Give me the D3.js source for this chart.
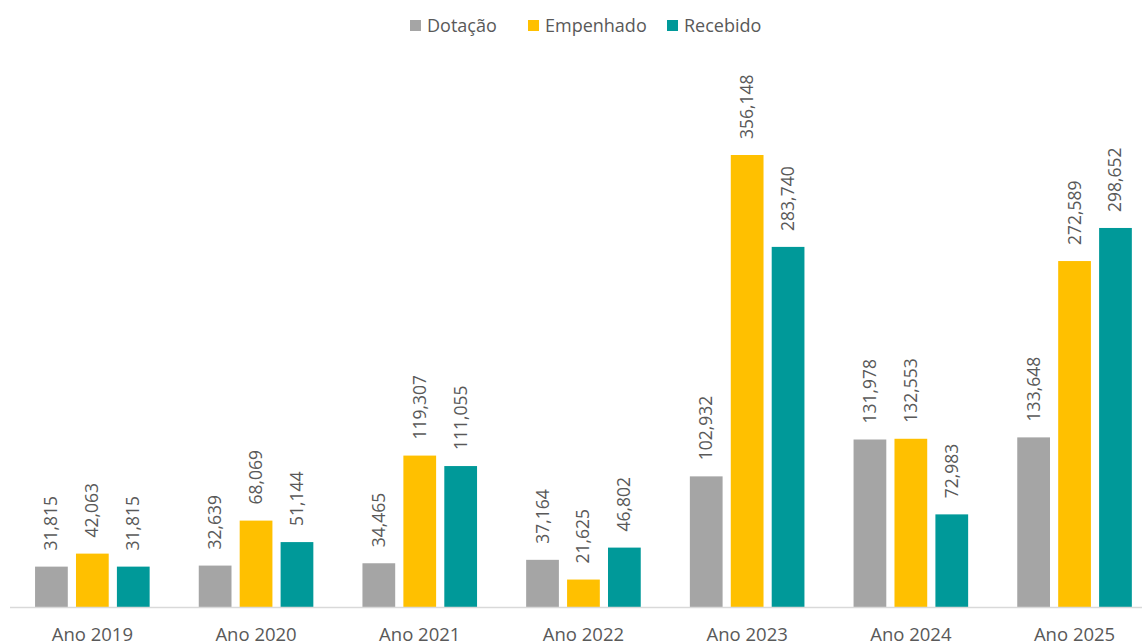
<!DOCTYPE html>
<html>
<head>
<meta charset="utf-8">
<script src="https://cdn.jsdelivr.net/npm/d3@7"></script>
<style>
	body { margin: 0; background: #fff; }
	text { font-family: "Open Sans", sans-serif; fill: #595959; }
</style>
</head>
<body>
<div id="chart"></div>
<script>
	var years = ["Ano 2019", "Ano 2020", "Ano 2021", "Ano 2022", "Ano 2023", "Ano 2024", "Ano 2025"];
	var seriesNames = ["Dotação", "Empenhado", "Recebido"];
	var colors = ["#A5A5A5", "#FFC000", "#009999"];
	var dotacao   = [31815, 32639, 34465, 37164, 102932, 131978, 133648];
	var empenhado = [42063, 68069, 119307, 21625, 356148, 132553, 272589];
	var recebido  = [31815, 51144, 111055, 46802, 283740, 72983, 298652];
	var seriesValues = [dotacao, empenhado, recebido];

	var width = 1142, height = 642;
	var baseY = 607;
	var step = 163.7;

	var svg = d3.select("#chart").append("svg")
		.attr("width", width)
		.attr("height", height);

	// groups: the plot runs a bit past the right edge, as in the original
	var x0 = d3.scaleBand().domain(years).range([10.5, 10.5 + 7 * step]).paddingInner(0.3).paddingOuter(0.15);
	var x1 = d3.scaleBand().domain(seriesNames).range([0, x0.bandwidth()]).paddingInner(0.2);
	var y = d3.scaleLinear().domain([0, 356148]).range([baseY, 155]);

	var groups = svg.selectAll("g.group")
		.data(years)
		.enter().append("g")
		.attr("class", "group")
		.attr("transform", function(d) { return "translate(" + x0(d) + ",0)"; });

	groups.each(function(year, i) {
		var g = d3.select(this);
		seriesNames.forEach(function(s, j) {
			var v = seriesValues[j][i];
			g.append("rect")
				.attr("x", x1(s))
				.attr("y", y(v))
				.attr("width", x1.bandwidth())
				.attr("height", baseY - y(v))
				.attr("fill", colors[j]);
			var cx = x1(s) + x1.bandwidth() / 2;
			var ty = y(v) - 16;
			g.append("text")
				.attr("transform", "translate(" + (cx + 6) + "," + ty + ") rotate(-90)")
				.attr("text-anchor", "start")
				.style("font-size", "17.5px")
				.text(d3.format(",")(v));
		});
	});

	// axis line
	svg.append("line")
		.attr("x1", 10).attr("x2", width)
		.attr("y1", baseY + 0.5).attr("y2", baseY + 0.5)
		.attr("stroke", "#D9D9D9")
		.attr("stroke-width", 1.5);

	var xAxis = d3.axisBottom(x0).tickSize(0).tickPadding(0);
	var ax = svg.append("g")
		.attr("transform", "translate(0," + baseY + ")")
		.call(xAxis);
	ax.select(".domain").remove();
	ax.selectAll("text")
		.attr("dy", null)
		.attr("y", 34)
		.style("font-size", "18.5px")
		.style("fill", "#595959");

	// legend
	var legendX = [410, 528, 667];
	var legend = svg.append("g");
	seriesNames.forEach(function(s, j) {
		legend.append("rect")
			.attr("x", legendX[j]).attr("y", 20)
			.attr("width", 11).attr("height", 11)
			.attr("fill", colors[j]);
		legend.append("text")
			.attr("x", legendX[j] + 17).attr("y", 32)
			.style("font-size", "18px")
			.text(s);
	});
</script>
</body>
</html>
